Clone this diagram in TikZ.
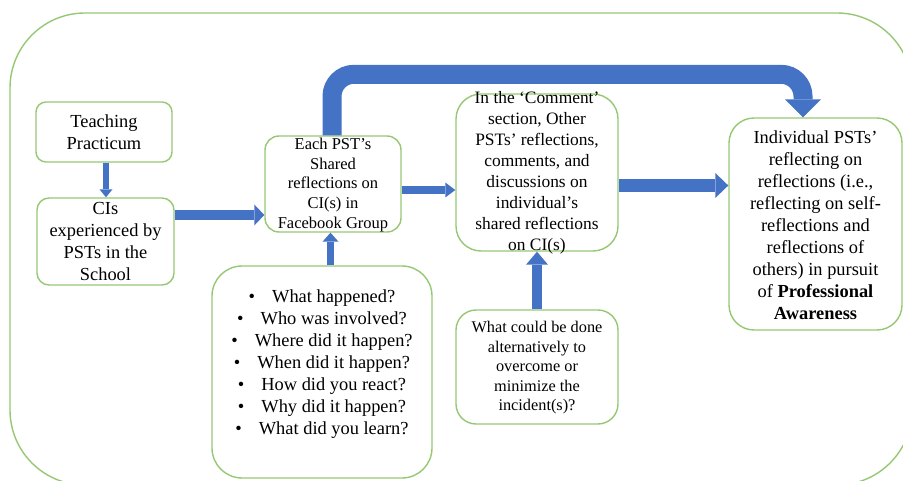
\documentclass[tikz,border=0pt]{standalone}
\usepackage{fontspec}
\setmainfont{Liberation Serif}
\newfontfamily\tnr{Liberation Serif}
\usetikzlibrary{arrows.meta,calc}
\definecolor{frame}{RGB}{150,200,115}
\definecolor{flow}{RGB}{68,114,196}
\begin{document}
\begin{tikzpicture}[x=1pt,y=1pt,
  box/.style={draw=frame, line width=1.4pt, fill=white, inner sep=0pt},
  txt/.style={align=center, inner sep=0pt, text=black},
  fA/.style={font=\tnr\fontsize{18.4}{22}\selectfont},
  fB/.style={font=\tnr\fontsize{16.5}{19.6}\selectfont},
  fC/.style={font=\tnr\fontsize{17.4}{21}\selectfont},
  fD/.style={font=\tnr\fontsize{16.3}{19.5}\selectfont},
  blk/.style args={#1/#2/#3}{color=flow, line width=#1,
    -{Triangle[width=#2,length=#3,line width=0pt]}}
]
\useasboundingbox (0,0) rectangle (903,-481);
\begin{scope}
\clip (0,0) rectangle (903,-481);
\draw[frame, line width=1.4pt, rounded corners=75pt] (10,-13) rectangle (912,-485);
\end{scope}

% boxes
\node[box, rounded corners=10pt, minimum width=136pt, minimum height=60pt] (tp) at (104,-132) {};
\node[txt,fA] (tpT) at (tp) {Teaching\\Practicum};

\node[box, rounded corners=12pt, minimum width=137pt, minimum height=87pt] (ci) at (105.5,-241.5) {};
\node[txt,fA] (ciT) at (ci) {CIs\\experienced by\\PSTs in the\\School};

\node[box, rounded corners=14pt, minimum width=136pt, minimum height=96pt] (each) at (333,-184) {};
\node[txt,fB] (eachT) at ($(each)+(0,-1)$) {Each PST’s\\Shared\\reflections on\\CI(s) in\\Facebook Group};

\node[box, rounded corners=25pt, minimum width=162pt, minimum height=157pt] (comm) at (537,-172.5) {};
\node[txt,fC] (commT) at (comm) {In the ‘Comment’\\section, Other\\PSTs’ reflections,\\comments, and\\discussions on\\individual’s\\shared reflections\\on CI(s)};

\node[box, rounded corners=25pt, minimum width=173pt, minimum height=212pt] (indiv) at (815.5,-224) {};
\node[txt,fA] (indivT) at ($(indiv)+(0,-1)$) {Individual PSTs’\\reflecting on\\reflections (i.e.,\\reflecting on self-\\reflections and\\reflections of\\others) in pursuit\\of \textbf{Professional}\\\textbf{Awareness}};

\node[box, rounded corners=30pt, minimum width=220pt, minimum height=212pt] (bul) at (322,-372) {};
\node[txt,fA] (bulT) at (322,-364.5) {%
\textbullet\hspace{17pt}What happened?\\
\textbullet\hspace{17pt}Who was involved?\\
\textbullet\hspace{17pt}Where did it happen?\\
\textbullet\hspace{17pt}When did it happen?\\
\textbullet\hspace{17pt}How did you react?\\
\textbullet\hspace{17pt}Why did it happen?\\
\textbullet\hspace{17pt}What did you learn?};

\node[box, rounded corners=20pt, minimum width=162pt, minimum height=114pt] (what) at (537,-367) {};
\node[txt,fD] (whatT) at ($(what)+(0,-1)$) {What could be done\\alternatively to\\overcome or\\minimize the\\incident(s)?};

% connectors
\draw[blk={6pt/13pt/8pt}] ($(tp.south)+(2,0)$) -- ($(ci.north)+(0.5,0)$);
\draw[blk={10pt/21pt/10pt}] ($(ci.east)+(0,26.5)$) -- ($(each.west)+(0,-31)$);
\draw[blk={7pt/16pt/9pt}] ($(bul.north)+(8.5,0)$) -- ($(each.south)+(-2.5,0)$);
\draw[blk={8pt/15pt/10pt}] ($(each.east)+(0,-6)$) -- ($(comm.west)+(0,-17.5)$);
\draw[blk={10pt/22pt/13pt}] (what.north) -- (comm.south);
\draw[blk={13pt/25pt/13pt}] ($(comm.east)+(0,-13)$) -- ($(indiv.west)+(0,38.5)$);
\draw[blk={19pt/36pt/18pt}, rounded corners=22pt]
  ($(each.north)+(-1,0)$) |- ($(indiv.north)+(-12.5,43)$) -- ($(indiv.north)+(-12.5,0)$);
\end{tikzpicture}
\end{document}
